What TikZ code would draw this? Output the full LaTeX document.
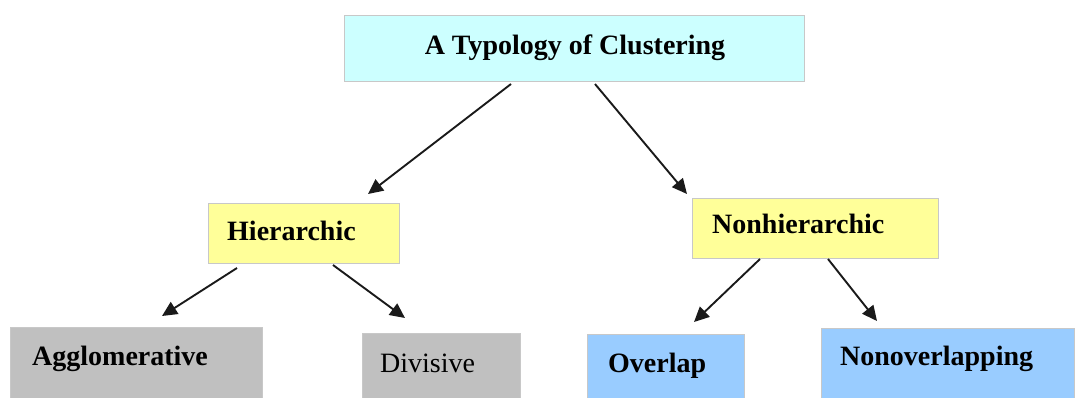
\documentclass[tikz,border=0pt]{standalone}
\usepackage{fontspec}
\setmainfont{Liberation Serif}
\usetikzlibrary{arrows.meta}

\definecolor{titlefill}{HTML}{CCFFFF}
\definecolor{midfill}{HTML}{FFFF99}
\definecolor{greyfill}{HTML}{C0C0C0}
\definecolor{bluefill}{HTML}{99CCFF}
\definecolor{edgegrey}{HTML}{C8C8C8}
\definecolor{arrowink}{HTML}{1A1A1A}

\tikzset{
  panel/.style={draw=edgegrey, line width=1.2pt, anchor=north west, inner sep=0pt},
  lbl/.style={anchor=base west, inner sep=0pt, font=\fontsize{28}{30}\selectfont\bfseries},
  lblplain/.style={anchor=base west, inner sep=0pt, font=\fontsize{28}{30}\selectfont},
  link/.style={draw=arrowink, line width=1.9pt, -{Triangle[length=15pt,width=14pt]}}
}

\begin{document}
\begin{tikzpicture}[x=1pt, y=-1pt]
\useasboundingbox (0,0) rectangle (1075,397);

% boxes
\node[panel, fill=titlefill, minimum width=460pt, minimum height=66pt] (top) at (344,15) {};
\node[panel, fill=midfill, minimum width=191pt, minimum height=60pt] (hier) at (208,203) {};
\node[panel, fill=midfill, minimum width=246pt, minimum height=60pt] (nonhier) at (692,198) {};
\node[panel, fill=greyfill, minimum width=252pt, minimum height=75pt] (agg) at (10,327) {};
\node[panel, fill=greyfill, minimum width=158pt, minimum height=70pt] (div) at (362,333) {};
\node[panel, fill=bluefill, minimum width=157pt, minimum height=70pt] (ovl) at (587,334) {};
\node[panel, fill=bluefill, minimum width=253pt, minimum height=75pt] (novl) at (821,328) {};

% labels
\node[lbl, anchor=base] (toptext) at (575,54) {A Typology of Clustering};
\node[lbl] (hiertext) at (227,240) {Hierarchic};
\node[lbl] (nonhiertext) at (712,233) {Nonhierarchic};
\node[lbl] (aggtext) at (32,365) {Agglomerative};
\node[lblplain] (divtext) at (380,372) {Divisive};
\node[lbl] (ovltext) at (608,372) {Overlap};
\node[lbl] (novltext) at (840,365) {Nonoverlapping};

% connector end points
\coordinate (a1s) at (511,84);  \coordinate (a1e) at (368,194);
\coordinate (a2s) at (595,84);  \coordinate (a2e) at (687,194);
\coordinate (a3s) at (237,268); \coordinate (a3e) at (162,316);
\coordinate (a4s) at (333,265); \coordinate (a4e) at (405,318);
\coordinate (a5s) at (760,259); \coordinate (a5e) at (694,322);
\coordinate (a6s) at (828,259); \coordinate (a6e) at (877,321);

% connectors
\draw[link] (a1s) -- (a1e);
\draw[link] (a2s) -- (a2e);
\draw[link] (a3s) -- (a3e);
\draw[link] (a4s) -- (a4e);
\draw[link] (a5s) -- (a5e);
\draw[link] (a6s) -- (a6e);
\end{tikzpicture}
\end{document}
